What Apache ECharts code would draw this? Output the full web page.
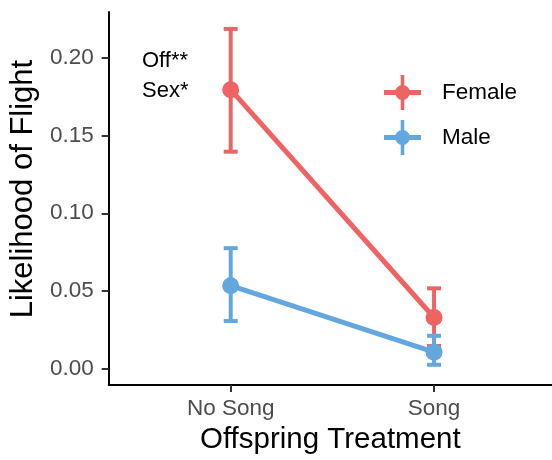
<!DOCTYPE html>
<html>
<head>
<meta charset="utf-8">
<script src="https://cdn.jsdelivr.net/npm/echarts@6/dist/echarts.min.js"></script>
<style>html,body{margin:0;padding:0;background:#fff;}#c{width:552px;height:460px;}</style>
</head>
<body>
<div id="c"></div>
<script>
const categories = ['No Song', 'Song'];
const seriesNames = ['Female', 'Male'];
const femaleMean = [0.1797, 0.0328];
const femaleLower = [0.1397, 0.0144];
const femaleUpper = [0.2189, 0.0516];
const maleMean = [0.0533, 0.0104];
const maleLower = [0.0305, 0.0023];
const maleUpper = [0.0775, 0.0210];
const yTicks = [0, 0.05, 0.10, 0.15, 0.20];
const annotations = ['Off**', 'Sex*'];

const colors = ['#EE6363', '#62A8DE'];
const FONT = '"Liberation Sans", Arial, sans-serif';
const xPos = categories.map((c, i) => i + 1);

function errSeries(name, lower, upper, color) {
  return {
    type: 'custom',
    name: name + ' err',
    data: xPos.map((x, i) => [x, lower[i], upper[i]]),
    encode: { x: 0, y: [1, 2] },
    renderItem: function (params, api) {
      const x = api.value(0);
      const lo = api.coord([x, api.value(1)]);
      const hi = api.coord([x, api.value(2)]);
      const hw = 7;
      const st = { stroke: color, lineWidth: 4 };
      return {
        type: 'group',
        children: [
          { type: 'line', shape: { x1: lo[0], y1: lo[1], x2: hi[0], y2: hi[1] }, style: st },
          { type: 'line', shape: { x1: lo[0] - hw, y1: lo[1], x2: lo[0] + hw, y2: lo[1] }, style: st },
          { type: 'line', shape: { x1: hi[0] - hw, y1: hi[1], x2: hi[0] + hw, y2: hi[1] }, style: st }
        ]
      };
    },
    silent: true
  };
}

function lineSeries(name, mean, color) {
  return {
    type: 'line',
    name: name,
    data: xPos.map((x, i) => [x, mean[i]]),
    symbol: 'circle',
    symbolSize: 17,
    lineStyle: { color: color, width: 5 },
    itemStyle: { color: color },
    z: 3
  };
}

const icon = 'path://M0,15H37V20H0Z M16.7,0H20.3V35H16.7Z M11,17.5A7.5,7.5 0 1,1 26,17.5A7.5,7.5 0 1,1 11,17.5Z';

const chart = echarts.init(document.getElementById('c'), null, { renderer: 'canvas' });
chart.setOption({
  animation: false,
  backgroundColor: '#fff',
  color: colors,
  textStyle: { fontFamily: FONT },
  grid: { left: 105, right: 0, top: 12, bottom: 69 },
  xAxis: {
    type: 'value',
    min: 0.4,
    max: 2.58,
    name: 'Offspring Treatment',
    nameLocation: 'middle',
    nameGap: 32,
    nameTextStyle: { fontSize: 29.5, color: '#000', fontFamily: FONT },
    axisLine: { show: true, onZero: false, lineStyle: { color: '#000', width: 2 } },
    axisTick: { show: true, length: 7, lineStyle: { color: '#333', width: 2 }, customValues: xPos },
    axisLabel: {
      fontSize: 22.5, color: '#4D4D4D', margin: 12, fontFamily: FONT,
      customValues: xPos,
      formatter: v => categories[Math.round(v) - 1] || ''
    },
    splitLine: { show: false }
  },
  yAxis: {
    type: 'value',
    min: -0.0108,
    max: 0.2298,
    name: 'Likelihood of Flight',
    nameLocation: 'middle',
    nameGap: 68,
    nameTextStyle: { fontSize: 31, color: '#000', fontFamily: FONT, padding: [0, 0, 0, 19] },
    axisLine: { show: true, onZero: false, lineStyle: { color: '#000', width: 2 } },
    axisTick: { show: true, length: 7, lineStyle: { color: '#333', width: 2 }, customValues: yTicks },
    axisLabel: {
      fontSize: 22.5, color: '#4D4D4D', margin: 15, fontFamily: FONT,
      customValues: yTicks,
      formatter: v => v.toFixed(2)
    },
    splitLine: { show: false }
  },
  legend: {
    orient: 'vertical',
    left: 384,
    top: 75,
    padding: 0,
    itemWidth: 37,
    itemHeight: 35,
    itemGap: 10,
    data: seriesNames.map(n => ({ name: n, icon: icon })),
    textStyle: { fontSize: 22.5, color: '#000', fontFamily: FONT, padding: [0, 0, 0, 16] }
  },
  graphic: annotations.map((t, i) => ({
    type: 'text',
    left: 142,
    top: 50 + i * 30,
    style: { text: t, fontSize: 22, fill: '#000', fontFamily: FONT }
  })),
  series: [
    errSeries(seriesNames[0], femaleLower, femaleUpper, colors[0]),
    errSeries(seriesNames[1], maleLower, maleUpper, colors[1]),
    lineSeries(seriesNames[0], femaleMean, colors[0]),
    lineSeries(seriesNames[1], maleMean, colors[1])
  ]
});
</script>
</body>
</html>
